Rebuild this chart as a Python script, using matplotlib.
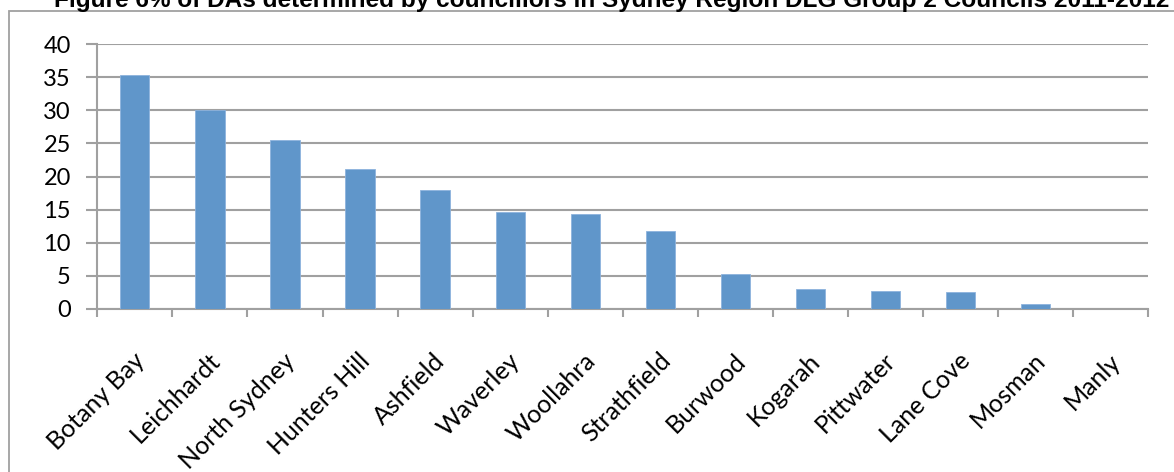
import matplotlib
matplotlib.use("Agg")
import matplotlib.pyplot as plt
from matplotlib.patches import Rectangle
from matplotlib.transforms import ScaledTranslation

councils = ["Botany Bay", "Leichhardt", "North Sydney", "Hunters Hill", "Ashfield",
            "Waverley", "Woollahra", "Strathfield", "Burwood", "Kogarah",
            "Pittwater", "Lane Cove", "Mosman", "Manly"]
pct_determined = [35.4, 30.0, 25.5, 21.1, 18.0, 14.7, 14.3, 11.7, 5.3, 3.0, 2.7, 2.6, 0.7, 0.0]
y_ticks = [0, 5, 10, 15, 20, 25, 30, 35, 40]
title = "Figure 6% of DAs determined by councillors in Sydney Region DLG Group 2 Councils 2011-2012"

W, H = 1174, 472
fig = plt.figure(figsize=(W / 100, H / 100), dpi=100)
fig.patch.set_facecolor("white")

# outer chart border
fig.add_artist(Rectangle((9 / W, -0.1), 1.2, 1 - 10.5 / H + 0.1, transform=fig.transFigure,
                         fill=False, edgecolor="#A0A0A0", linewidth=1.3))

left, right, top, bottom = 97.3, 1148.3, 44.3, 308.7
ax = fig.add_axes([left / W, 1 - bottom / H, (right - left) / W, (bottom - top) / H])

font = ["Lato", "DejaVu Sans"]
grid_c = "#A0A0A0"
n = len(councils)
x = list(range(n))
ax.bar(x, pct_determined, width=0.39, color="#6096CA", edgecolor="#8DB3DD", linewidth=0.6, zorder=3)
ax.set_xlim(-0.5, n - 0.5)
ax.set_ylim(0, 40)
ax.set_yticks(y_ticks)
ax.set_yticklabels([str(v) for v in y_ticks], fontsize=17, fontfamily=font)
ax.yaxis.grid(True, color=grid_c, linewidth=1.5, zorder=0)
ax.set_axisbelow(True)

ax.set_xticks([i - 0.5 for i in range(n + 1)], minor=False)
ax.set_xticklabels([""] * (n + 1))
ax.set_xticks(x, minor=True)
ax.set_xticklabels(councils, minor=True, rotation=45, ha="right", va="top",
                   rotation_mode="anchor", fontsize=18, fontfamily=font)
ax.tick_params(axis="x", which="minor", length=0, pad=29)
ax.tick_params(axis="x", which="major", length=6, width=1.5, color=grid_c, direction="out")
ax.tick_params(axis="y", length=8, width=1.5, color=grid_c, direction="out", pad=11)

for lab in ax.get_xticklabels(minor=True):
    lab.set_transform(lab.get_transform() + ScaledTranslation(-2 / 100, 0, fig.dpi_scale_trans))

for s in ["top", "right"]:
    ax.spines[s].set_visible(False)
for s in ["left", "bottom"]:
    ax.spines[s].set_color(grid_c)
    ax.spines[s].set_linewidth(1.5)

fig.text(612 / W, 1 - 7 / H, title, ha="center", va="baseline", fontsize=17.6,
         fontweight="bold", fontfamily="Liberation Sans")

fig.savefig("out.png", dpi=100)
